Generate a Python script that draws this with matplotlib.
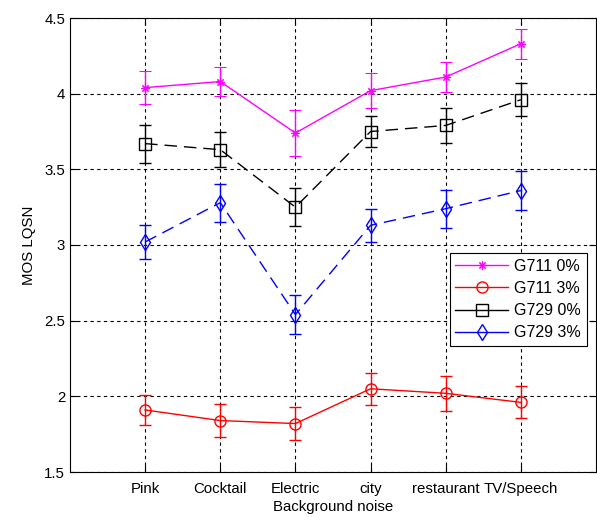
import matplotlib
matplotlib.use("Agg")
import matplotlib.pyplot as plt
from matplotlib.lines import Line2D
import numpy as np

plt.rcParams['font.family'] = ['Liberation Sans', 'DejaVu Sans']

categories = ["Pink", "Cocktail", "Electric", "city", "restaurant", "TV/Speech"]
g711_0 = [4.04, 4.08, 3.74, 4.02, 4.11, 4.33]
g711_0_err = [0.11, 0.095, 0.155, 0.115, 0.10, 0.10]
g711_3 = [1.91, 1.84, 1.82, 2.05, 2.02, 1.96]
g711_3_err = [0.10, 0.11, 0.11, 0.105, 0.115, 0.105]
g729_0 = [3.67, 3.63, 3.25, 3.75, 3.79, 3.96]
g729_0_err = [0.125, 0.115, 0.125, 0.10, 0.115, 0.11]
g729_3 = [3.02, 3.28, 2.54, 3.13, 3.24, 3.36]
g729_3_err = [0.115, 0.125, 0.13, 0.11, 0.125, 0.13]
yticks = [1.5, 2, 2.5, 3, 3.5, 4, 4.5]

W, H = 597, 517
fig = plt.figure(figsize=(W/100, H/100), dpi=100)
ax = fig.add_axes([70/W, (H-472)/H, 526/W, 454/H])

x = np.arange(1, len(categories)+1)
star = (8, 2, 0)
series = [
    (g711_0, g711_0_err, '#ff00ff', star, '-', "G711 0%", 6),
    (g711_3, g711_3_err, '#ff0000', 'o', '-', "G711 3%", 8),
    (g729_0, g729_0_err, '#000000', 's', (0, (9, 5)), "G729 0%", 8),
    (g729_3, g729_3_err, '#0000ff', 'd', (0, (9, 5)), "G729 3%", 8),
]
handles = []
for y, e, c, m, ls, lab, ms in series:
    mew = 0.8 if m == star else 1.0
    ax.errorbar(x, y, yerr=e, color=c, marker=m, linestyle=ls, linewidth=1.0,
                markersize=ms, markerfacecolor='none', markeredgecolor=c,
                markeredgewidth=mew, capsize=4, elinewidth=1.0, capthick=1.0)
    handles.append(Line2D([], [], color=c, marker=m, linestyle='-', linewidth=1.0,
                          markersize=ms, markerfacecolor='none', markeredgecolor=c,
                          markeredgewidth=mew, label=lab))

ax.set_xlim(0, 7)
ax.set_ylim(1.5, 4.5)
ax.set_xticks(x)
ax.set_xticklabels(categories)
ax.set_yticks(yticks)
ax.set_yticklabels(["1.5", "2", "2.5", "3", "3.5", "4", "4.5"])
ax.grid(True, linestyle=(0, (3, 3)), color='black', linewidth=0.8)
ax.tick_params(direction='in', top=True, right=True, labelsize=10.8, length=5)
ax.tick_params(axis='x', pad=7)
for s in ax.spines.values():
    s.set_linewidth(0.8)
ax.set_xlabel("Background noise", fontsize=10.8, labelpad=3)
ax.set_ylabel("MOS LQSN", fontsize=10.8, labelpad=6)

leg = ax.legend(handles=handles, loc='upper left', bbox_to_anchor=(0.722, 0.482), fontsize=11.5,
                frameon=True, fancybox=False, edgecolor='black', framealpha=1,
                handlelength=3.3, borderpad=0.35, labelspacing=0.45, handletextpad=0.4,
                borderaxespad=0)
leg.get_frame().set_linewidth(0.8)

fig.savefig("out.png", dpi=100)
